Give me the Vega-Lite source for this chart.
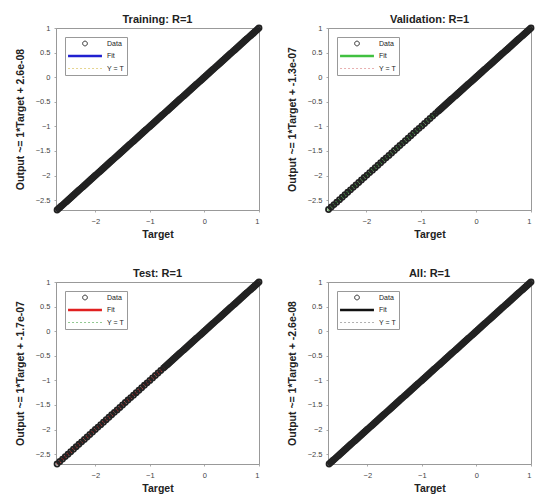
{
  "$schema": "https://vega.github.io/schema/vega-lite/v6.json",
  "padding": {"left": 14, "top": 13, "right": 5, "bottom": 0},
  "background": "white",
  "config": {
    "view": {"stroke": "#999", "strokeWidth": 1},
    "font": "Liberation Sans",
    "title": {"font": "Liberation Sans", "fontSize": 11, "fontWeight": "bold", "color": "#222", "offset": -3},
    "axis": {"labelFont": "Liberation Sans", "labelFontSize": 7.5, "labelColor": "#444", "titleFont": "Liberation Sans", "titleFontSize": 10.5, "titleFontWeight": "bold", "titleColor": "#222", "domainColor": "#999", "tickColor": "#aaa", "tickSize": 2, "grid": false},
    "axisX": {"labelPadding": 5, "titlePadding": 5},
    "axisY": {"labelPadding": 4, "titlePadding": 10, "format": "~g"},
    "legend": {"title": null, "orient": "top-left", "offset": 9, "padding": 3, "strokeColor": "#999", "fillColor": "white", "labelFontSize": 7, "labelFont": "Liberation Sans", "labelColor": "#222", "labelAlign": "left", "rowPadding": 2.5, "symbolStrokeWidth": 1}
  },
  "datasets": {
    "lines": [
      {"p": "Training", "s": "Fit", "t": -2.7, "o": -2.7}, {"p": "Training", "s": "Fit", "t": 1, "o": 1},
      {"p": "Training", "s": "Y = T", "t": -2.7, "o": -2.7}, {"p": "Training", "s": "Y = T", "t": 1, "o": 1},
      {"p": "Validation", "s": "Fit", "t": -2.7, "o": -2.7}, {"p": "Validation", "s": "Fit", "t": 1, "o": 1},
      {"p": "Validation", "s": "Y = T", "t": -2.7, "o": -2.7}, {"p": "Validation", "s": "Y = T", "t": 1, "o": 1},
      {"p": "Test", "s": "Fit", "t": -2.7, "o": -2.7}, {"p": "Test", "s": "Fit", "t": 1, "o": 1},
      {"p": "Test", "s": "Y = T", "t": -2.7, "o": -2.7}, {"p": "Test", "s": "Y = T", "t": 1, "o": 1},
      {"p": "All", "s": "Fit", "t": -2.7, "o": -2.7}, {"p": "All", "s": "Fit", "t": 1, "o": 1},
      {"p": "All", "s": "Y = T", "t": -2.7, "o": -2.7}, {"p": "All", "s": "Y = T", "t": 1, "o": 1}
    ],
    "train": [
      {"t":-2.7,"o":-2.7},{"t":-2.675,"o":-2.675},{"t":-2.65,"o":-2.65},{"t":-2.625,"o":-2.625},{"t":-2.6,"o":-2.6},{"t":-2.575,"o":-2.575},{"t":-2.55,"o":-2.55},{"t":-2.525,"o":-2.525},{"t":-2.5,"o":-2.5},{"t":-2.475,"o":-2.475},{"t":-2.45,"o":-2.45},{"t":-2.425,"o":-2.425},{"t":-2.4,"o":-2.4},{"t":-2.375,"o":-2.375},{"t":-2.35,"o":-2.35},{"t":-2.325,"o":-2.325},{"t":-2.3,"o":-2.3},{"t":-2.275,"o":-2.275},{"t":-2.25,"o":-2.25},{"t":-2.225,"o":-2.225},{"t":-2.2,"o":-2.2},{"t":-2.175,"o":-2.175},{"t":-2.15,"o":-2.15},{"t":-2.125,"o":-2.125},{"t":-2.1,"o":-2.1},{"t":-2.075,"o":-2.075},{"t":-2.05,"o":-2.05},{"t":-2.025,"o":-2.025},{"t":-2,"o":-2},{"t":-1.975,"o":-1.975},{"t":-1.95,"o":-1.95},{"t":-1.925,"o":-1.925},{"t":-1.9,"o":-1.9},{"t":-1.875,"o":-1.875},{"t":-1.85,"o":-1.85},{"t":-1.825,"o":-1.825},{"t":-1.8,"o":-1.8},{"t":-1.775,"o":-1.775},{"t":-1.75,"o":-1.75},{"t":-1.725,"o":-1.725},{"t":-1.7,"o":-1.7},{"t":-1.675,"o":-1.675},{"t":-1.65,"o":-1.65},{"t":-1.625,"o":-1.625},{"t":-1.6,"o":-1.6},{"t":-1.575,"o":-1.575},{"t":-1.55,"o":-1.55},{"t":-1.525,"o":-1.525},{"t":-1.5,"o":-1.5},{"t":-1.475,"o":-1.475},{"t":-1.45,"o":-1.45},{"t":-1.425,"o":-1.425},{"t":-1.4,"o":-1.4},{"t":-1.375,"o":-1.375},{"t":-1.35,"o":-1.35},{"t":-1.325,"o":-1.325},{"t":-1.3,"o":-1.3},{"t":-1.275,"o":-1.275},{"t":-1.25,"o":-1.25},{"t":-1.225,"o":-1.225},{"t":-1.2,"o":-1.2},{"t":-1.175,"o":-1.175},{"t":-1.15,"o":-1.15},{"t":-1.125,"o":-1.125},{"t":-1.1,"o":-1.1},{"t":-1.075,"o":-1.075},{"t":-1.05,"o":-1.05},{"t":-1.025,"o":-1.025},{"t":-1,"o":-1},{"t":-0.975,"o":-0.975},{"t":-0.95,"o":-0.95},{"t":-0.925,"o":-0.925},{"t":-0.9,"o":-0.9},{"t":-0.875,"o":-0.875},{"t":-0.85,"o":-0.85},{"t":-0.825,"o":-0.825},{"t":-0.8,"o":-0.8},{"t":-0.775,"o":-0.775},{"t":-0.75,"o":-0.75},{"t":-0.725,"o":-0.725},{"t":-0.7,"o":-0.7},{"t":-0.675,"o":-0.675},{"t":-0.65,"o":-0.65},{"t":-0.625,"o":-0.625},{"t":-0.6,"o":-0.6},{"t":-0.575,"o":-0.575},{"t":-0.55,"o":-0.55},{"t":-0.525,"o":-0.525},{"t":-0.5,"o":-0.5},{"t":-0.475,"o":-0.475},{"t":-0.45,"o":-0.45},{"t":-0.425,"o":-0.425},{"t":-0.4,"o":-0.4},{"t":-0.375,"o":-0.375},{"t":-0.35,"o":-0.35},{"t":-0.325,"o":-0.325},{"t":-0.3,"o":-0.3},{"t":-0.275,"o":-0.275},{"t":-0.25,"o":-0.25},{"t":-0.225,"o":-0.225},{"t":-0.2,"o":-0.2},{"t":-0.175,"o":-0.175},{"t":-0.15,"o":-0.15},{"t":-0.125,"o":-0.125},{"t":-0.1,"o":-0.1},{"t":-0.075,"o":-0.075},{"t":-0.05,"o":-0.05},{"t":-0.025,"o":-0.025},{"t":0,"o":0},{"t":0.025,"o":0.025},{"t":0.05,"o":0.05},{"t":0.075,"o":0.075},{"t":0.1,"o":0.1},{"t":0.125,"o":0.125},{"t":0.15,"o":0.15},{"t":0.175,"o":0.175},{"t":0.2,"o":0.2},{"t":0.225,"o":0.225},{"t":0.25,"o":0.25},{"t":0.275,"o":0.275},{"t":0.3,"o":0.3},{"t":0.325,"o":0.325},{"t":0.35,"o":0.35},{"t":0.375,"o":0.375},{"t":0.4,"o":0.4},{"t":0.425,"o":0.425},{"t":0.45,"o":0.45},{"t":0.475,"o":0.475},{"t":0.5,"o":0.5},{"t":0.525,"o":0.525},{"t":0.55,"o":0.55},{"t":0.575,"o":0.575},{"t":0.6,"o":0.6},{"t":0.625,"o":0.625},{"t":0.65,"o":0.65},{"t":0.675,"o":0.675},{"t":0.7,"o":0.7},{"t":0.725,"o":0.725},{"t":0.75,"o":0.75},{"t":0.775,"o":0.775},{"t":0.8,"o":0.8},{"t":0.825,"o":0.825},{"t":0.85,"o":0.85},{"t":0.875,"o":0.875},{"t":0.9,"o":0.9},{"t":0.925,"o":0.925},{"t":0.95,"o":0.95},{"t":0.975,"o":0.975},{"t":1,"o":1}
    ],
    "val": [
      {"t":-2.69,"o":-2.69},{"t":-2.64,"o":-2.64},{"t":-2.59,"o":-2.59},{"t":-2.54,"o":-2.54},{"t":-2.49,"o":-2.49},{"t":-2.44,"o":-2.44},{"t":-2.39,"o":-2.39},{"t":-2.34,"o":-2.34},{"t":-2.29,"o":-2.29},{"t":-2.24,"o":-2.24},{"t":-2.19,"o":-2.19},{"t":-2.14,"o":-2.14},{"t":-2.09,"o":-2.09},{"t":-2.04,"o":-2.04},{"t":-1.99,"o":-1.99},{"t":-1.94,"o":-1.94},{"t":-1.89,"o":-1.89},{"t":-1.84,"o":-1.84},{"t":-1.79,"o":-1.79},{"t":-1.74,"o":-1.74},{"t":-1.69,"o":-1.69},{"t":-1.64,"o":-1.64},{"t":-1.59,"o":-1.59},{"t":-1.54,"o":-1.54},{"t":-1.49,"o":-1.49},{"t":-1.44,"o":-1.44},{"t":-1.39,"o":-1.39},{"t":-1.34,"o":-1.34},{"t":-1.29,"o":-1.29},{"t":-1.24,"o":-1.24},{"t":-1.19,"o":-1.19},{"t":-1.14,"o":-1.14},{"t":-1.09,"o":-1.09},{"t":-1.04,"o":-1.04},{"t":-0.99,"o":-0.99},{"t":-0.94,"o":-0.94},{"t":-0.89,"o":-0.89},{"t":-0.84,"o":-0.84},{"t":-0.79,"o":-0.79},{"t":-0.74,"o":-0.74},
      {"t":-0.7,"o":-0.7},{"t":-0.675,"o":-0.675},{"t":-0.65,"o":-0.65},{"t":-0.625,"o":-0.625},{"t":-0.6,"o":-0.6},{"t":-0.575,"o":-0.575},{"t":-0.55,"o":-0.55},{"t":-0.525,"o":-0.525},{"t":-0.5,"o":-0.5},{"t":-0.475,"o":-0.475},{"t":-0.45,"o":-0.45},{"t":-0.425,"o":-0.425},{"t":-0.4,"o":-0.4},{"t":-0.375,"o":-0.375},{"t":-0.35,"o":-0.35},{"t":-0.325,"o":-0.325},{"t":-0.3,"o":-0.3},{"t":-0.275,"o":-0.275},{"t":-0.25,"o":-0.25},{"t":-0.225,"o":-0.225},{"t":-0.2,"o":-0.2},{"t":-0.175,"o":-0.175},{"t":-0.15,"o":-0.15},{"t":-0.125,"o":-0.125},{"t":-0.1,"o":-0.1},{"t":-0.075,"o":-0.075},{"t":-0.05,"o":-0.05},{"t":-0.025,"o":-0.025},{"t":0,"o":0},{"t":0.025,"o":0.025},{"t":0.05,"o":0.05},{"t":0.075,"o":0.075},{"t":0.1,"o":0.1},{"t":0.125,"o":0.125},{"t":0.15,"o":0.15},{"t":0.175,"o":0.175},{"t":0.2,"o":0.2},{"t":0.225,"o":0.225},{"t":0.25,"o":0.25},{"t":0.275,"o":0.275},{"t":0.3,"o":0.3},{"t":0.325,"o":0.325},{"t":0.35,"o":0.35},{"t":0.375,"o":0.375},{"t":0.4,"o":0.4},{"t":0.425,"o":0.425},{"t":0.45,"o":0.45},{"t":0.475,"o":0.475},{"t":0.5,"o":0.5},{"t":0.525,"o":0.525},{"t":0.55,"o":0.55},{"t":0.575,"o":0.575},{"t":0.6,"o":0.6},{"t":0.625,"o":0.625},{"t":0.65,"o":0.65},{"t":0.675,"o":0.675},{"t":0.7,"o":0.7},{"t":0.725,"o":0.725},{"t":0.75,"o":0.75},{"t":0.775,"o":0.775},{"t":0.8,"o":0.8},{"t":0.825,"o":0.825},{"t":0.85,"o":0.85},{"t":0.875,"o":0.875},{"t":0.9,"o":0.9},{"t":0.925,"o":0.925},{"t":0.95,"o":0.95},{"t":0.975,"o":0.975},{"t":1,"o":1}
    ],
    "test": [
      {"t":-2.7,"o":-2.7},{"t":-2.65,"o":-2.65},{"t":-2.6,"o":-2.6},{"t":-2.55,"o":-2.55},{"t":-2.5,"o":-2.5},{"t":-2.45,"o":-2.45},{"t":-2.4,"o":-2.4},{"t":-2.35,"o":-2.35},{"t":-2.3,"o":-2.3},{"t":-2.25,"o":-2.25},{"t":-2.2,"o":-2.2},{"t":-2.15,"o":-2.15},{"t":-2.1,"o":-2.1},{"t":-2.05,"o":-2.05},{"t":-2,"o":-2},{"t":-1.95,"o":-1.95},{"t":-1.9,"o":-1.9},{"t":-1.85,"o":-1.85},{"t":-1.8,"o":-1.8},{"t":-1.75,"o":-1.75},{"t":-1.7,"o":-1.7},{"t":-1.65,"o":-1.65},{"t":-1.6,"o":-1.6},{"t":-1.55,"o":-1.55},{"t":-1.5,"o":-1.5},{"t":-1.45,"o":-1.45},{"t":-1.4,"o":-1.4},{"t":-1.35,"o":-1.35},{"t":-1.3,"o":-1.3},{"t":-1.25,"o":-1.25},{"t":-1.2,"o":-1.2},{"t":-1.15,"o":-1.15},{"t":-1.1,"o":-1.1},{"t":-1.05,"o":-1.05},{"t":-1,"o":-1},{"t":-0.95,"o":-0.95},{"t":-0.9,"o":-0.9},{"t":-0.85,"o":-0.85},{"t":-0.8,"o":-0.8},
      {"t":-0.75,"o":-0.75},{"t":-0.725,"o":-0.725},{"t":-0.7,"o":-0.7},{"t":-0.675,"o":-0.675},{"t":-0.65,"o":-0.65},{"t":-0.625,"o":-0.625},{"t":-0.6,"o":-0.6},{"t":-0.575,"o":-0.575},{"t":-0.55,"o":-0.55},{"t":-0.525,"o":-0.525},{"t":-0.5,"o":-0.5},{"t":-0.475,"o":-0.475},{"t":-0.45,"o":-0.45},{"t":-0.425,"o":-0.425},{"t":-0.4,"o":-0.4},{"t":-0.375,"o":-0.375},{"t":-0.35,"o":-0.35},{"t":-0.325,"o":-0.325},{"t":-0.3,"o":-0.3},{"t":-0.275,"o":-0.275},{"t":-0.25,"o":-0.25},{"t":-0.225,"o":-0.225},{"t":-0.2,"o":-0.2},{"t":-0.175,"o":-0.175},{"t":-0.15,"o":-0.15},{"t":-0.125,"o":-0.125},{"t":-0.1,"o":-0.1},{"t":-0.075,"o":-0.075},{"t":-0.05,"o":-0.05},{"t":-0.025,"o":-0.025},{"t":0,"o":0},{"t":0.025,"o":0.025},{"t":0.05,"o":0.05},{"t":0.075,"o":0.075},{"t":0.1,"o":0.1},{"t":0.125,"o":0.125},{"t":0.15,"o":0.15},{"t":0.175,"o":0.175},{"t":0.2,"o":0.2},{"t":0.225,"o":0.225},{"t":0.25,"o":0.25},{"t":0.275,"o":0.275},{"t":0.3,"o":0.3},{"t":0.325,"o":0.325},{"t":0.35,"o":0.35},{"t":0.375,"o":0.375},{"t":0.4,"o":0.4},{"t":0.425,"o":0.425},{"t":0.45,"o":0.45},{"t":0.475,"o":0.475},{"t":0.5,"o":0.5},{"t":0.525,"o":0.525},{"t":0.55,"o":0.55},{"t":0.575,"o":0.575},{"t":0.6,"o":0.6},{"t":0.625,"o":0.625},{"t":0.65,"o":0.65},{"t":0.675,"o":0.675},{"t":0.7,"o":0.7},{"t":0.725,"o":0.725},{"t":0.75,"o":0.75},{"t":0.775,"o":0.775},{"t":0.8,"o":0.8},{"t":0.825,"o":0.825},{"t":0.85,"o":0.85},{"t":0.875,"o":0.875},{"t":0.9,"o":0.9},{"t":0.925,"o":0.925},{"t":0.95,"o":0.95},{"t":0.975,"o":0.975},{"t":1,"o":1}
    ]
  },
  "columns": 2,
  "spacing": {"row": 72, "column": 69},
  "bounds": "flush",
  "resolve": {"scale": {"color": "independent"}, "legend": {"color": "independent"}},
  "concat": [
    {
      "width": 203, "height": 182,
      "title": "Training: R=1",
      "encoding": {
        "x": {"field": "t", "type": "quantitative", "scale": {"domain": [-2.72, 1], "nice": false, "zero": false}, "axis": {"values": [-2, -1, 0, 1], "title": "Target"}},
        "y": {"field": "o", "type": "quantitative", "scale": {"domain": [-2.7, 1], "nice": false, "zero": false}, "axis": {"values": [-2.5, -2, -1.5, -1, -0.5, 0, 0.5, 1], "title": "Output ~= 1*Target + 2.6e-08"}}
      },
      "layer": [
        {"data": {"name": "lines"}, "transform": [{"filter": "datum.p === 'Training' && datum.s === 'Fit'"}], "mark": {"type": "line", "strokeWidth": 2},
         "encoding": {"color": {"datum": "Fit", "type": "nominal", "scale": {"domain": ["Data", "Fit", "Y = T"], "range": ["#222222", "#2020d0", "#e6d590"]},
           "legend": {"encode": {"symbols": {"update": {"shape": {"signal": "datum.value === 'Data' ? 'circle' : 'stroke'"}, "size": {"signal": "datum.value === 'Data' ? 22 : 1150"}, "x": {"value": 17}, "strokeDash": {"signal": "datum.value === 'Y = T' ? [2,2] : [1,0]"}, "strokeWidth": {"signal": "datum.value === 'Fit' ? 2.5 : 1"}, "fill": {"value": "transparent"}}}, "labels": {"update": {"x": {"value": 39}, "align": {"value": "left"}}}}}}}},
        {"data": {"name": "lines"}, "transform": [{"filter": "datum.p === 'Training' && datum.s === 'Y = T'"}], "mark": {"type": "line", "strokeWidth": 1, "strokeDash": [2, 2]},
         "encoding": {"color": {"datum": "Y = T", "type": "nominal"}}},
        {"data": {"name": "train"}, "mark": {"type": "point", "shape": "circle", "filled": false, "strokeWidth": 1.8, "size": 26, "opacity": 1},
         "encoding": {"color": {"datum": "Data", "type": "nominal"}}}
      ]
    },
    {
      "width": 203, "height": 182,
      "title": "Validation: R=1",
      "encoding": {
        "x": {"field": "t", "type": "quantitative", "scale": {"domain": [-2.7, 1], "nice": false, "zero": false}, "axis": {"values": [-2, -1, 0, 1], "title": "Target"}},
        "y": {"field": "o", "type": "quantitative", "scale": {"domain": [-2.7, 1], "nice": false, "zero": false}, "axis": {"values": [-2.5, -2, -1.5, -1, -0.5, 0, 0.5, 1], "title": "Output ~= 1*Target + -1.3e-07"}}
      },
      "layer": [
        {"data": {"name": "lines"}, "transform": [{"filter": "datum.p === 'Validation' && datum.s === 'Fit'"}], "mark": {"type": "line", "strokeWidth": 3},
         "encoding": {"color": {"datum": "Fit", "type": "nominal", "scale": {"domain": ["Data", "Fit", "Y = T"], "range": ["#222222", "#40c040", "#e8b0b0"]},
           "legend": {"encode": {"symbols": {"update": {"shape": {"signal": "datum.value === 'Data' ? 'circle' : 'stroke'"}, "size": {"signal": "datum.value === 'Data' ? 22 : 1150"}, "x": {"value": 17}, "strokeDash": {"signal": "datum.value === 'Y = T' ? [2,2] : [1,0]"}, "strokeWidth": {"signal": "datum.value === 'Fit' ? 2.5 : 1"}, "fill": {"value": "transparent"}}}, "labels": {"update": {"x": {"value": 39}, "align": {"value": "left"}}}}}}}},
        {"data": {"name": "lines"}, "transform": [{"filter": "datum.p === 'Validation' && datum.s === 'Y = T'"}], "mark": {"type": "line", "strokeWidth": 1, "strokeDash": [2, 2]},
         "encoding": {"color": {"datum": "Y = T", "type": "nominal"}}},
        {"data": {"name": "val"}, "mark": {"type": "point", "shape": "circle", "filled": false, "strokeWidth": 1.8, "size": 26, "opacity": 1},
         "encoding": {"color": {"datum": "Data", "type": "nominal"}}}
      ]
    },
    {
      "width": 203, "height": 182,
      "title": "Test: R=1",
      "encoding": {
        "x": {"field": "t", "type": "quantitative", "scale": {"domain": [-2.72, 1], "nice": false, "zero": false}, "axis": {"values": [-2, -1, 0, 1], "title": "Target"}},
        "y": {"field": "o", "type": "quantitative", "scale": {"domain": [-2.7, 1], "nice": false, "zero": false}, "axis": {"values": [-2.5, -2, -1.5, -1, -0.5, 0, 0.5, 1], "title": "Output ~= 1*Target + -1.7e-07"}}
      },
      "layer": [
        {"data": {"name": "lines"}, "transform": [{"filter": "datum.p === 'Test' && datum.s === 'Fit'"}], "mark": {"type": "line", "strokeWidth": 3},
         "encoding": {"color": {"datum": "Fit", "type": "nominal", "scale": {"domain": ["Data", "Fit", "Y = T"], "range": ["#222222", "#e02020", "#90c890"]},
           "legend": {"encode": {"symbols": {"update": {"shape": {"signal": "datum.value === 'Data' ? 'circle' : 'stroke'"}, "size": {"signal": "datum.value === 'Data' ? 22 : 1150"}, "x": {"value": 17}, "strokeDash": {"signal": "datum.value === 'Y = T' ? [2,2] : [1,0]"}, "strokeWidth": {"signal": "datum.value === 'Fit' ? 2.5 : 1"}, "fill": {"value": "transparent"}}}, "labels": {"update": {"x": {"value": 39}, "align": {"value": "left"}}}}}}}},
        {"data": {"name": "lines"}, "transform": [{"filter": "datum.p === 'Test' && datum.s === 'Y = T'"}], "mark": {"type": "line", "strokeWidth": 1, "strokeDash": [2, 2]},
         "encoding": {"color": {"datum": "Y = T", "type": "nominal"}}},
        {"data": {"name": "test"}, "mark": {"type": "point", "shape": "circle", "filled": false, "strokeWidth": 1.8, "size": 26, "opacity": 1},
         "encoding": {"color": {"datum": "Data", "type": "nominal"}}}
      ]
    },
    {
      "width": 203, "height": 182,
      "title": "All: R=1",
      "encoding": {
        "x": {"field": "t", "type": "quantitative", "scale": {"domain": [-2.72, 1], "nice": false, "zero": false}, "axis": {"values": [-2, -1, 0, 1], "title": "Target"}},
        "y": {"field": "o", "type": "quantitative", "scale": {"domain": [-2.7, 1], "nice": false, "zero": false}, "axis": {"values": [-2.5, -2, -1.5, -1, -0.5, 0, 0.5, 1], "title": "Output ~= 1*Target + -2.6e-08"}}
      },
      "layer": [
        {"data": {"name": "lines"}, "transform": [{"filter": "datum.p === 'All' && datum.s === 'Fit'"}], "mark": {"type": "line", "strokeWidth": 3},
         "encoding": {"color": {"datum": "Fit", "type": "nominal", "scale": {"domain": ["Data", "Fit", "Y = T"], "range": ["#222222", "#111111", "#b0b0b0"]},
           "legend": {"encode": {"symbols": {"update": {"shape": {"signal": "datum.value === 'Data' ? 'circle' : 'stroke'"}, "size": {"signal": "datum.value === 'Data' ? 22 : 1150"}, "x": {"value": 17}, "strokeDash": {"signal": "datum.value === 'Y = T' ? [2,2] : [1,0]"}, "strokeWidth": {"signal": "datum.value === 'Fit' ? 2.5 : 1"}, "fill": {"value": "transparent"}}}, "labels": {"update": {"x": {"value": 39}, "align": {"value": "left"}}}}}}}},
        {"data": {"name": "lines"}, "transform": [{"filter": "datum.p === 'All' && datum.s === 'Y = T'"}], "mark": {"type": "line", "strokeWidth": 1, "strokeDash": [2, 2]},
         "encoding": {"color": {"datum": "Y = T", "type": "nominal"}}},
        {"data": {"name": "train"}, "mark": {"type": "point", "shape": "circle", "filled": false, "strokeWidth": 1.8, "size": 26, "opacity": 1},
         "encoding": {"color": {"datum": "Data", "type": "nominal"}}}
      ]
    }
  ]
}
